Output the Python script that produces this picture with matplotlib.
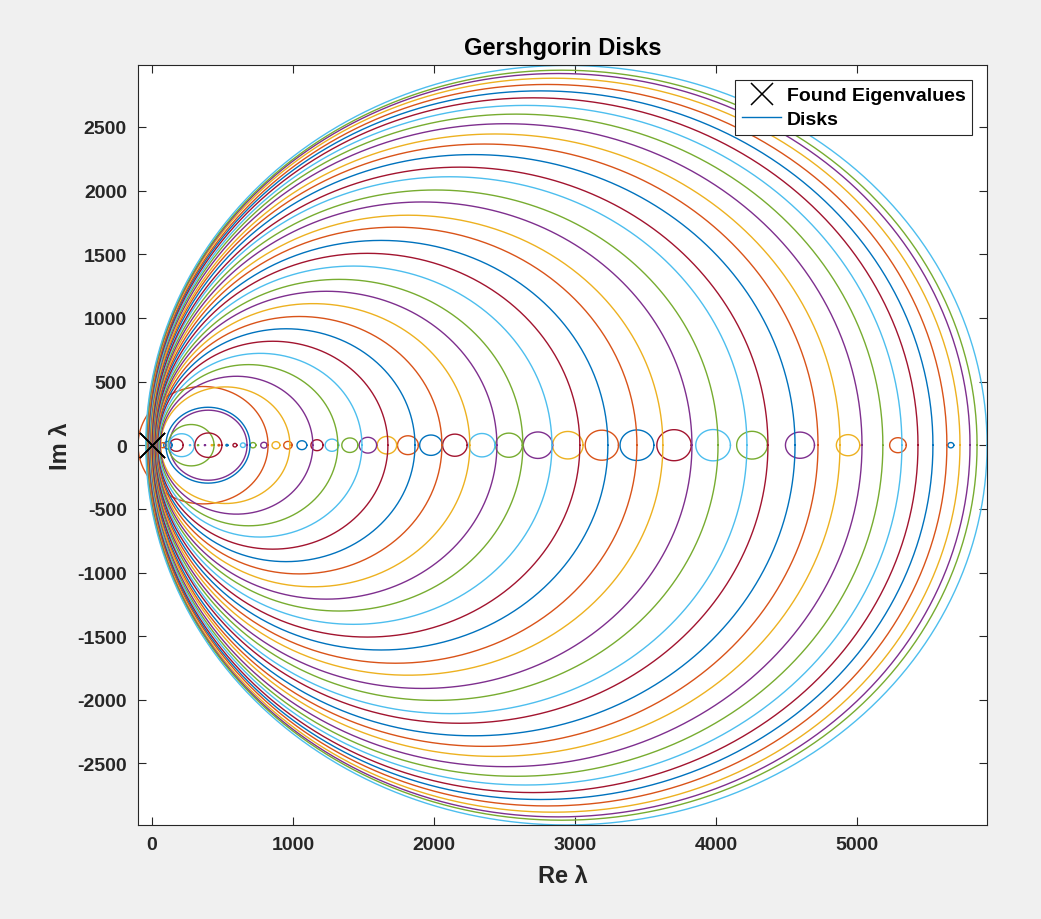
import numpy as np
import matplotlib.pyplot as plt

plt.rcParams['font.family'] = ['Liberation Sans', 'DejaVu Sans']
plt.rcParams['font.weight'] = 'bold'
plt.rcParams['axes.unicode_minus'] = False

# small disks along the real axis, in plot order (right to left)
small_c = [5665, 5290, 4936, 4595, 4255, 3979, 3702, 3439, 3190, 2949,
           2737, 2531, 2340, 2148, 1978, 1815, 1666, 1531, 1403, 1276,
           1170, 1063, 964, 879, 794, 716, 645, 588, 531, 474,
           425, 375, 326, 269, 173, 113, 77, 48]
small_r = [21, 59, 83, 103, 109, 123, 122, 120, 118, 108,
           104, 95, 92, 87, 80, 74, 69, 62, 57, 48,
           43, 35, 30, 28, 23, 21, 18, 14, 7, 6,
           5, 4, 4, 4, 48, 30, 20, 15]

# large disks: where each one cuts the real axis (left, right), in plot order
big_left = [124, 115, 120, 304, 99, -99, 62, 58, 52, 46,
            40, 36, 34, 30, 28, 25, 22, 20, 16, 14,
            10, 8, 5, 2, 0, -5, -8, -10, -15, -18,
            -20, -25, -28, -30, -35, -38, -40, -44]
big_right = [674, 440, 300, 496, 695, 823, 978, 1141, 1318, 1489,
             1673, 1865, 2056, 2254, 2446, 2630, 2836, 3034, 3233, 3439,
             3623, 3829, 4014, 4219, 4368, 4560, 4723, 4879, 5035, 5183,
             5318, 5432, 5538, 5637, 5730, 5801, 5851, 5922]

# found eigenvalues
eig_re = [-3.0, 0.0, 2.0]
eig_im = [0.0, 0.0, 0.0]

big_c = [(l + r) / 2 for l, r in zip(big_left, big_right)]
big_r = [(r - l) / 2 for l, r in zip(big_left, big_right)]
centers = small_c + big_c
radii = small_r + big_r

matlab_colors = ['#0072BD', '#D95319', '#EDB120', '#7E2F8E',
                 '#77AC30', '#4DBEEE', '#A2142F']
plt.rcParams['axes.prop_cycle'] = plt.cycler(color=matlab_colors)

fig = plt.figure(figsize=(10.41, 9.2), dpi=100, facecolor='#f0f0f0')
ax = fig.add_axes([0.1326, 0.1022, 0.8156, 0.8256])

t = np.linspace(0, 2 * np.pi, 721)
disk_lines = []
for c, r in zip(centers, radii):
    ln, = ax.plot(c + r * np.cos(t), r * np.sin(t), lw=1.0)
    disk_lines.append(ln)

eig_mark, = ax.plot(eig_re, eig_im, 'x', color='k', ms=18, mew=1.1, zorder=5)

ax.margins(0)
ax.autoscale(tight=True)

ax.set_xticks([0, 1000, 2000, 3000, 4000, 5000])
ax.set_yticks(np.arange(-2500, 2501, 500))
ax.tick_params(direction='in', length=6, width=0.8, top=True, right=True,
               labelsize=14, colors='#262626', pad=8)
for lab in ax.get_xticklabels() + ax.get_yticklabels():
    lab.set_fontweight('bold')
for s in ax.spines.values():
    s.set_color('#262626')
    s.set_linewidth(0.8)

ax.set_title('Gershgorin Disks', fontsize=17, fontweight='bold', pad=8)
ax.set_xlabel('Re λ', fontsize=17, fontweight='bold', color='#262626',
              labelpad=8)
ax.set_ylabel('Im λ', fontsize=17, fontweight='bold', color='#262626')

leg = ax.legend([eig_mark, disk_lines[0]], ['Found Eigenvalues', 'Disks'],
                loc='upper right', fontsize=14, fancybox=False, framealpha=1,
                edgecolor='#262626', borderaxespad=0.75, handlelength=2.0,
                handletextpad=0.3, borderpad=0.35, labelspacing=0.3,
                markerscale=0.85)
leg.get_frame().set_linewidth(0.8)
for txt in leg.get_texts():
    txt.set_fontweight('bold')

fig.savefig('out.png', dpi=100, facecolor=fig.get_facecolor())
